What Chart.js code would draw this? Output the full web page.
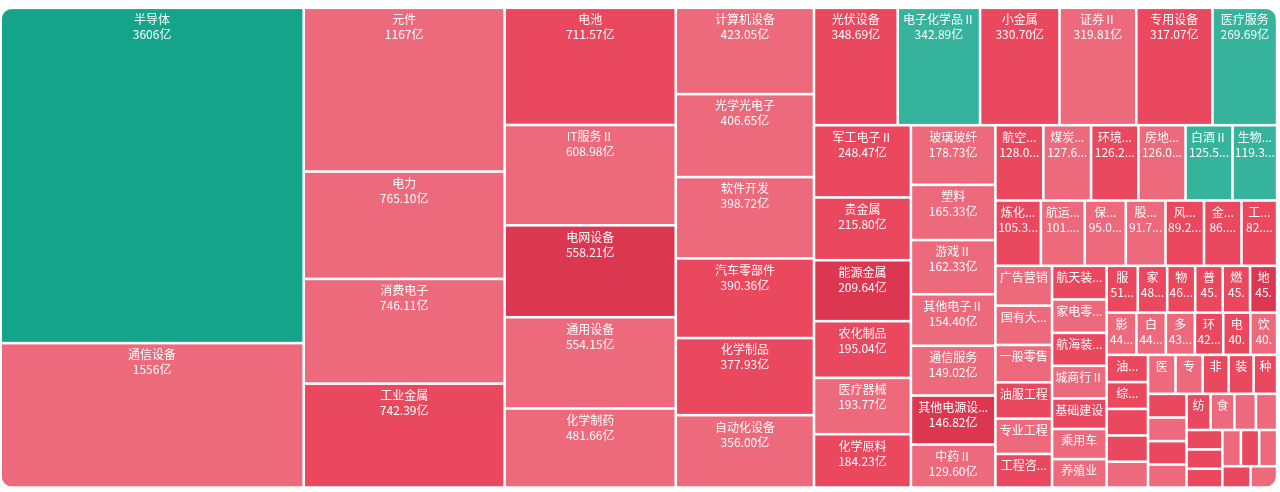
<!DOCTYPE html>
<html lang="zh-CN">
<head>
<meta charset="UTF-8" />
<title>行业板块树图</title>
<script src="https://cdn.jsdelivr.net/npm/chart.js@4.4.1/dist/chart.umd.min.js"></script>
<style>
  html, body { margin: 0; padding: 0; background: #fff; }
  .wrap { width: 1280px; height: 492px; position: relative; }
</style>
</head>
<body>
<div class="wrap"><canvas id="treemap"></canvas></div>
<script>
// 行业名称，按数值从大到小（空字符串为格子太小、看不到名字的行业）
const sectors = [
  '半导体', '通信设备', '元件', '电力', '消费电子', '工业金属', '电池', 'IT服务Ⅱ', '电网设备', '通用设备',
  '化学制药', '计算机设备', '光学光电子', '软件开发', '汽车零部件', '化学制品', '自动化设备', '光伏设备', '电子化学品Ⅱ', '小金属',
  '证券Ⅱ', '专用设备', '医疗服务', '军工电子Ⅱ', '贵金属', '能源金属', '农化制品', '医疗器械', '化学原料', '玻璃玻纤',
  '塑料', '游戏Ⅱ', '其他电子Ⅱ', '通信服务', '其他电源设备Ⅱ', '中药Ⅱ', '航空机场', '煤炭开采', '环境治理', '房地产开发',
  '白酒Ⅱ', '生物制品', '炼化及贸易', '航运港口', '保险Ⅱ', '股份制银行Ⅱ', '风电设备', '金属新材料', '工程机械', '广告营销',
  '国有大型银行Ⅱ', '一般零售', '油服工程', '专业工程', '工程咨询服务Ⅱ', '航天装备Ⅱ', '家电零部件Ⅱ', '航海装备Ⅱ', '城商行Ⅱ', '基础建设',
  '乘用车', '养殖业', '服装家纺', '家居用品', '物流', '普钢', '燃气Ⅱ', '地面兵装Ⅱ', '影视院线', '白色家电',
  '多元金融', '环保设备Ⅱ', '电机Ⅱ', '饮料乳品', '油气开采Ⅱ', '综合Ⅱ', '包装印刷', '', '', '医药商业',
  '专业服务', '非金属材料Ⅱ', '装修建材', '种植业', '', '', '', '', '纺织制造', '食品加工',
  '', '', '', '', '', '', '', '', '', ''
];

// 数值，单位：亿
const amounts = [
  3606, 1556, 1167, 765.10, 746.11, 742.39, 711.57, 608.98, 558.21, 554.15,
  481.66, 423.05, 406.65, 398.72, 390.36, 377.93, 356.00, 348.69, 342.89, 330.70,
  319.81, 317.07, 269.69, 248.47, 215.80, 209.64, 195.04, 193.77, 184.23, 178.73,
  165.33, 162.33, 154.40, 149.02, 146.82, 129.60, 128.04, 127.63, 126.24, 126.02,
  125.53, 119.35, 105.35, 101.65, 95.05, 91.75, 89.25, 86.85, 82.70, 80.07,
  79.00, 75.00, 73.00, 71.00, 68.00, 65.20, 64.60, 63.80, 63.20, 59.00,
  58.40, 55.50, 51.80, 48.80, 46.50, 45.70, 45.40, 45.10, 44.60, 44.20,
  43.50, 42.50, 40.60, 40.30, 40.00, 39.40, 39.00, 38.60, 38.30, 38.00,
  37.50, 36.00, 34.50, 32.60, 32.40, 32.20, 32.00, 31.80, 30.80, 30.50,
  27.60, 27.30, 24.70, 24.50, 24.20, 23.90, 23.50, 23.20, 21.60, 20.40
];

// 涨跌强度：正数为涨（越大越红），负数为跌（绿色）
const trendLevels = [
  -2, 1, 1, 1, 1, 2, 2, 1, 3, 1,
  1, 1, 1, 1, 2, 2, 1, 2, -1, 2,
  1, 2, -1, 2, 2, 3, 2, 1, 2, 1,
  1, 1, 1, 1, 3, 1, 2, 1, 2, 1,
  -1, -1, 2, 1, 1, 1, 2, 2, 2, 1,
  1, 1, 2, 1, 2, 2, 1, 2, 1, 2,
  1, 1, 2, 2, 2, 2, 2, 3, 1, 1,
  1, 2, 2, 1, 2, 2, 2, 2, 1, 1,
  1, 2, 2, 2, 2, 1, 2, 1, 2, 1,
  1, 1, 2, 2, 2, 1, 2, 1, 2, 1
];

const levelColors = {
  '3': '#dc3750',
  '2': '#e9485f',
  '1': '#ec6a7b',
  '-1': '#36b39c',
  '-2': '#13a489'
};

const GAP = 1.3;
const LABEL_FONT = '12px "Noto Sans CJK SC", "Noto Sans", sans-serif';
const SQUARE_RATIO = 0.5 * (1 + Math.sqrt(5));

// 名称行和数值行的截断留白
const NAME_FIT = { full: 3.5, ellipsis: 5.25, single: 8, cut: 8 };
const VALUE_FIT = { full: 1, ellipsis: 2, single: 12, cut: 2 };

function formatAmount(v) {
  return (v >= 1000 ? Math.round(v) : v.toFixed(2)) + '亿';
}

// 罗马数字按整字宽来算，和原图的字体更接近
function textWidth(ctx, s) {
  return ctx.measureText(s.replace(/Ⅱ/g, '国')).width;
}

// 放得下就整段显示；否则加省略号；只剩一个字还要省略号时格子要更宽些，不然就直接截断
function fitText(ctx, text, w, m) {
  if (textWidth(ctx, text) <= w - m.full) return text;
  for (let n = text.length - 1; n >= 1; n--) {
    const t = text.slice(0, n) + '...';
    const room = n === 1 ? w - m.single : w - m.ellipsis;
    if (textWidth(ctx, t) <= room) return t;
  }
  for (let n = text.length - 1; n >= 1; n--) {
    const t = text.slice(0, n);
    if (textWidth(ctx, t) <= w - m.cut) return t;
  }
  return '';
}

function worst(row, rowArea, fixed, ratio) {
  let max = 0, min = Infinity;
  row.forEach(a => {
    if (a) {
      if (a < min) min = a;
      if (a > max) max = a;
    }
  });
  const sq = rowArea * rowArea;
  const f = fixed * fixed * ratio;
  return sq ? Math.max(f * max / sq, sq / (f * min)) : Infinity;
}

// squarified 布局，areas 已按从大到小排好
function squarify(areas, width, height) {
  const out = [];
  const rect = { x: 0, y: 0, w: width, h: height };
  let fixed = Math.min(width, height);
  let best = Infinity;
  let row = [];
  let rowArea = 0;

  const place = (flush) => {
    const horizontal = fixed === rect.w;
    let other = fixed ? rowArea / fixed : 0;
    const room = horizontal ? rect.h : rect.w;
    if (flush || other > room) other = room;
    let last = horizontal ? rect.x : rect.y;
    const end = horizontal ? rect.x + rect.w : rect.y + rect.h;
    row.forEach((idx, k) => {
      const step = other ? areas[idx] / other : 0;
      const remain = end - last;
      const len = (k === row.length - 1 || remain < step) ? remain : step;
      out[idx] = horizontal
        ? { x: last, y: rect.y, w: len, h: other }
        : { x: rect.x, y: last, w: other, h: len };
      last += len;
    });
    if (horizontal) { rect.y += other; rect.h -= other; }
    else { rect.x += other; rect.w -= other; }
  };

  for (let i = 0; i < areas.length;) {
    row.push(i);
    rowArea += areas[i];
    const score = worst(row.map(j => areas[j]), rowArea, fixed, SQUARE_RATIO);
    if (score <= best) {
      i++;
      best = score;
    } else {
      row.pop();
      rowArea -= areas[i];
      place(false);
      fixed = Math.min(rect.w, rect.h);
      row = [];
      rowArea = 0;
      best = Infinity;
    }
  }
  if (row.length) place(true);
  return out;
}

class TreemapCell extends Chart.Element {
  draw(ctx) {
    const x = this.x + GAP, y = this.y + GAP;
    const w = this.w - 2 * GAP, h = this.h - 2 * GAP;
    if (w <= 0 || h <= 0) return;
    ctx.fillStyle = this.color;
    ctx.fillRect(x, y, w, h);
    if (!this.name) return;

    ctx.font = LABEL_FONT;
    ctx.fillStyle = '#fff';
    ctx.textAlign = 'center';
    ctx.textBaseline = 'middle';
    const cx = x + w / 2;
    if (h >= 24) {
      const t = fitText(ctx, this.name, w, NAME_FIT);
      if (t) ctx.fillText(t, cx, y + 10.5);
    }
    if (h >= 38) {
      const t = fitText(ctx, this.valueText, w, VALUE_FIT);
      if (t) ctx.fillText(t, cx, y + 25.5);
    }
  }
}
TreemapCell.id = 'treemapCell';
TreemapCell.defaults = {};

class TreemapController extends Chart.DatasetController {
  parse(start, count) {
    const data = this.getDataset().data;
    const parsed = this._cachedMeta._parsed;
    for (let i = start; i < start + count; i++) parsed[i] = +data[i];
  }

  getMinMax() {
    return { min: 0, max: 1 };
  }

  update(mode) {
    const meta = this._cachedMeta;
    this.updateElements(meta.data, 0, meta.data.length, mode);
  }

  updateElements(elements, start, count) {
    const meta = this._cachedMeta;
    const xs = meta.xScale, ys = meta.yScale;
    if (!this.chart.chartArea || !xs || !ys) return;
    const W = xs.right - xs.left;
    const H = ys.bottom - ys.top;
    const values = meta._parsed;
    const total = values.reduce((a, b) => a + b, 0);
    const rects = squarify(values.map(v => v / total * W * H), W, H);
    const ds = this.getDataset();
    const labels = this.chart.data.labels;

    for (let i = start; i < start + count; i++) {
      const r = rects[i];
      // 布局结果换成 0~1 的比例，再经坐标轴换成像素
      const x0 = xs.getPixelForValue(r.x / W);
      const x1 = xs.getPixelForValue((r.x + r.w) / W);
      const y0 = ys.getPixelForValue(r.y / H);
      const y1 = ys.getPixelForValue((r.y + r.h) / H);
      Object.assign(elements[i], {
        x: x0,
        y: y0,
        w: x1 - x0,
        h: y1 - y0,
        name: labels[i],
        valueText: formatAmount(values[i]),
        color: levelColors[String(ds.levels[i])]
      });
    }
  }

  draw() {
    const ctx = this.chart.ctx;
    const a = this.chart.chartArea;
    ctx.save();
    ctx.beginPath();
    Chart.helpers.addRoundedRectPath(ctx, {
      x: a.left + GAP,
      y: a.top + GAP,
      w: a.right - a.left - 2 * GAP,
      h: a.bottom - a.top - 2 * GAP,
      radius: { topLeft: 10, topRight: 10, bottomLeft: 10, bottomRight: 10 }
    });
    ctx.clip();
    this._cachedMeta.data.forEach(el => el.draw(ctx));
    ctx.restore();
  }
}
TreemapController.id = 'treemapLite';
TreemapController.defaults = {
  datasetElementType: false,
  dataElementType: 'treemapCell'
};

Chart.register(TreemapController, TreemapCell);

new Chart(document.getElementById('treemap'), {
  type: 'treemapLite',
  data: {
    labels: sectors,
    datasets: [{ data: amounts, levels: trendLevels }]
  },
  options: {
    responsive: true,
    maintainAspectRatio: false,
    animation: false,
    events: [],
    layout: { padding: { left: 0.5, top: 7.8, right: 2.8, bottom: 4.2 } },
    scales: {
      x: { type: 'linear', display: false, min: 0, max: 1 },
      y: { type: 'linear', display: false, min: 0, max: 1, reverse: true }
    },
    plugins: {
      legend: { display: false },
      tooltip: { enabled: false }
    }
  }
});
</script>
</body>
</html>
